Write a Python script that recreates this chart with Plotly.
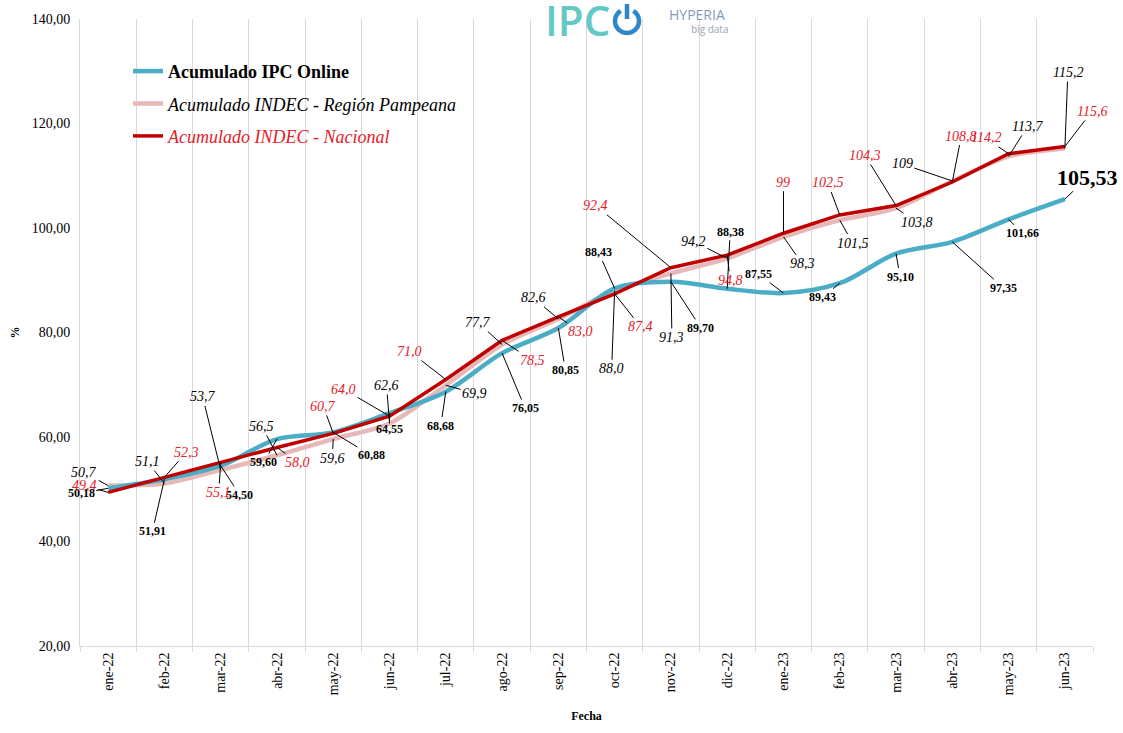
import plotly.graph_objects as go
import math

# ---------------- data ----------------
categories = ["ene-22", "feb-22", "mar-22", "abr-22", "may-22", "jun-22", "jul-22",
              "ago-22", "sep-22", "oct-22", "nov-22", "dic-22", "ene-23", "feb-23",
              "mar-23", "abr-23", "may-23", "jun-23"]

ipc_online = [50.18, 51.91, 54.50, 59.60, 60.88, 64.55, 68.68, 76.05, 80.85, 88.43,
              89.70, 88.38, 87.55, 89.43, 95.10, 97.35, 101.66, 105.53]
indec_pampeana = [50.7, 51.1, 53.7, 56.5, 59.6, 62.6, 69.9, 77.7, 82.6, 88.0,
                  91.3, 94.2, 98.3, 101.5, 103.8, 109.0, 113.7, 115.2]
indec_nacional = [49.4, 52.3, 55.1, 58.0, 60.7, 64.0, 71.0, 78.5, 83.0, 87.4,
                  92.4, 94.8, 99.0, 102.5, 104.3, 108.8, 114.2, 115.6]

ipc_labels = ["50,18", "51,91", "54,50", "59,60", "60,88", "64,55", "68,68", "76,05", "80,85",
              "88,43", "89,70", "88,38", "87,55", "89,43", "95,10", "97,35", "101,66", "105,53"]
pampeana_labels = ["50,7", "51,1", "53,7", "56,5", "59,6", "62,6", "69,9", "77,7", "82,6",
                   "88,0", "91,3", "94,2", "98,3", "101,5", "103,8", "109", "113,7", "115,2"]
nacional_labels = ["49,4", "52,3", "55,1", "58,0", "60,7", "64,0", "71,0", "78,5", "83,0",
                   "87,4", "92,4", "94,8", "99", "102,5", "104,3", "108,8", "114,2", "115,6"]

y_ticks = [20, 40, 60, 80, 100, 120, 140]

# ---------------- label callout offsets (pixels, styling only) ----------------
ipc_off = [(-27, 5), (-12, 52), (19, 29), (-13, 23), (38, 23), (0, 16), (-5, 34), (23, 55), (7, 42),
           (-16, -36), (30, 46), (3, -57), (-25, -19), (-17, 14), (4, 23), (51, 46), (14, 14), (23, -22)]
pamp_off = [(-24, -13), (-17, -22), (-18, -73), (-15, -29), (-1, 19), (-3, -38), (29, 8), (-24, -22),
            (-25, -21), (-3, 78), (1, 64), (-34, -17), (19, 27), (13, 23), (21, 14), (-50, -17),
            (19, -30), (3, -76)]
nac_off = [(-24, -7), (22, -25), (-2, 30), (21, 15), (-10, -27), (-46, -27), (-36, -28), (30, 20),
           (22, 15), (26, 33), (-75, -62), (3, 25), (0, -51), (-12, -32), (-31, -50), (9, -46),
           (-23, -16), (27, -35)]

BLUE = "#4bacc6"
PINK = "#e6b9b8"
DARKRED = "#c00000"
LABELRED = "#e3202a"
SERIF = "Liberation Serif, Times New Roman, serif"

fig = go.Figure()

fig.add_trace(go.Scatter(x=categories, y=indec_pampeana, mode="lines",
                         name="<i>Acumulado INDEC - Región Pampeana</i>",
                         line=dict(color=PINK, width=4.5, shape="spline", smoothing=0.8),
                         legendrank=2, legendgroup="b"))
fig.add_trace(go.Scatter(x=categories, y=ipc_online, mode="lines",
                         name="<b>Acumulado IPC Online</b>",
                         line=dict(color=BLUE, width=4.5, shape="spline", smoothing=0.9),
                         legendrank=1, legendgroup="a"))
fig.add_trace(go.Scatter(x=categories, y=indec_nacional, mode="lines",
                         name="<i><span style='color:" + LABELRED + "'>Acumulado INDEC - Nacional</span></i>",
                         line=dict(color=DARKRED, width=3.5),
                         legendrank=3, legendgroup="c"))

annotations = []


def add_labels(values, texts, offsets, font):
    for i, (v, t) in enumerate(zip(values, texts)):
        dx, dy = offsets[i]
        annotations.append(dict(x=categories[i], y=v, xref="x", yref="y", text=t,
                                showarrow=True, arrowhead=0, arrowwidth=1, arrowcolor="black",
                                ax=dx, ay=dy, font=font))


add_labels(ipc_online[:-1], [f"<b>{t}</b>" for t in ipc_labels[:-1]], ipc_off,
           dict(family=SERIF, size=12, color="black"))
add_labels([ipc_online[-1]], [f"<b>{ipc_labels[-1]}</b>"], [ipc_off[-1]], None)
annotations[-1]["x"] = categories[-1]
annotations[-1]["font"] = dict(family=SERIF, size=22, color="black")
add_labels(indec_pampeana, [f"<i>{t}</i>" for t in pampeana_labels], pamp_off,
           dict(family=SERIF, size=14, color="black"))
add_labels(indec_nacional, [f"<i>{t}</i>" for t in nacional_labels], nac_off,
           dict(family=SERIF, size=14, color=LABELRED))

# ---------------- logo (header) ----------------
L, R, T, B = 80, 1093, 18, 647


def px(xp):
    return (xp - L) / (R - L)


def py(yp):
    return (B - yp) / (B - T)


annotations.append(dict(xref="paper", yref="paper", x=px(577), y=py(19), text="IPC",
                        showarrow=False, xanchor="center", yanchor="middle",
                        font=dict(family="Open Sans, sans-serif", size=42, color="#62c9c4",
                                  weight=600)))
annotations.append(dict(xref="paper", yref="paper", x=px(697), y=py(13), text="HYPERIA",
                        showarrow=False, xanchor="center", yanchor="middle",
                        font=dict(family="Open Sans, sans-serif", size=14, color="#7f9bb8")))
annotations.append(dict(xref="paper", yref="paper", x=px(709), y=py(28), text="big data",
                        showarrow=False, xanchor="center", yanchor="middle",
                        font=dict(family="Open Sans, sans-serif", size=10, color="#9aa6b2")))

cx, cy, r = 627, 20, 12
pts = []
for k in range(0, 41):
    a = math.radians(58 - k * 7.4)  # from upper-right, around the bottom, to upper-left
    pts.append((cx + r * math.cos(a), cy - r * math.sin(a)))
path = "M " + " L ".join(f"{px(x):.5f},{py(y):.5f}" for x, y in pts)
shapes = [
    dict(type="path", xref="paper", yref="paper", path=path,
         line=dict(color="#2f86c8", width=4.5)),
    dict(type="line", xref="paper", yref="paper", x0=px(cx), x1=px(cx), y0=py(3), y1=py(18),
         line=dict(color="#2f86c8", width=4.5)),
]

fig.update_layout(
    width=1123, height=733,
    margin=dict(l=L, r=1123 - R, t=T, b=733 - B),
    paper_bgcolor="white", plot_bgcolor="white",
    separators=",.",
    font=dict(family=SERIF, color="black"),
    showlegend=True,
    legend=dict(x=px(128), y=py(52), xanchor="left", yanchor="top",
                bgcolor="rgba(0,0,0,0)", font=dict(family=SERIF, size=18, color="black"),
                traceorder="grouped", tracegroupgap=6, itemwidth=30),
    annotations=annotations,
    shapes=shapes,
    xaxis=dict(type="category", tickson="boundaries", showgrid=True, gridcolor="#d9d9d9",
               gridwidth=1, showline=True, linecolor="#d9d9d9", ticks="outside", ticklen=5,
               tickcolor="#d9d9d9", tickangle=-90, tickfont=dict(family=SERIF, size=14),
               title=dict(text="<b>Fecha</b>", font=dict(family=SERIF, size=12), standoff=17),
               range=[-0.5, len(categories) - 0.5]),
    yaxis=dict(range=[20, 140], tickvals=y_ticks, tickformat=".2f", showgrid=False,
               zeroline=False, showline=True, linecolor="#d9d9d9", ticks="",
               ticklabelstandoff=6,
               tickfont=dict(family=SERIF, size=14),
               title=dict(text="<b>%</b>", font=dict(family=SERIF, size=12), standoff=9)),
)

fig.write_html("out.html")
